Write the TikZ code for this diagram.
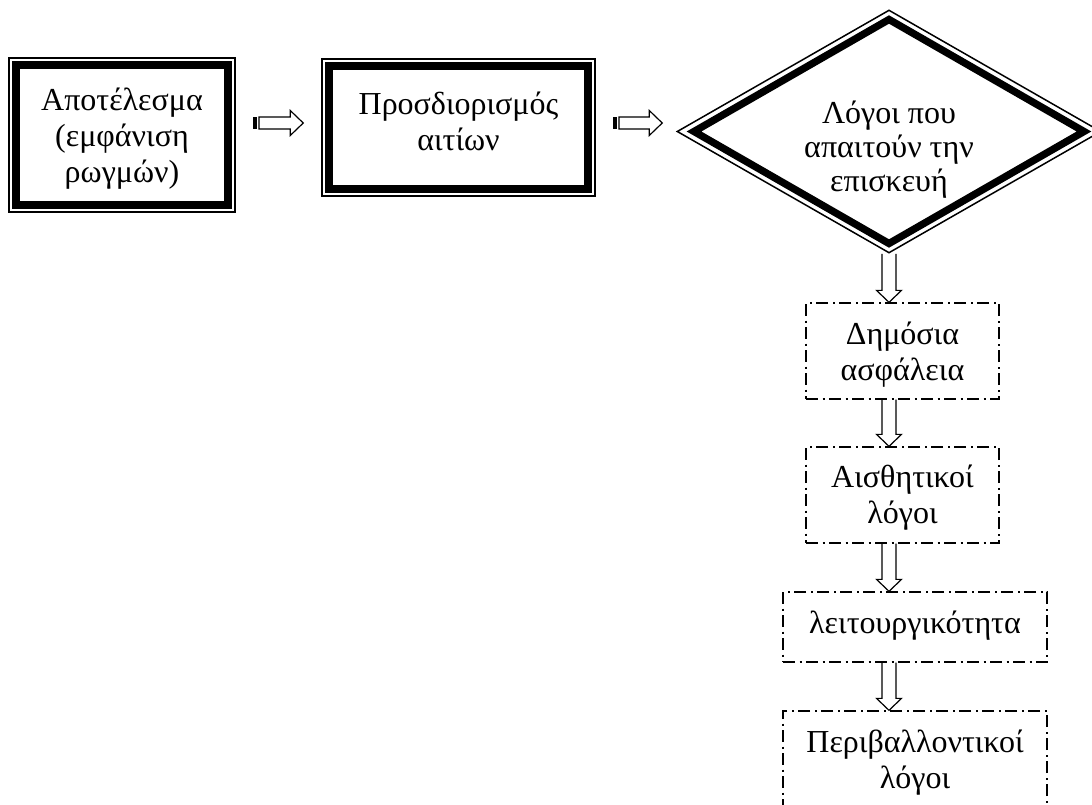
\documentclass[tikz,border=0pt]{standalone}
\usepackage{fontspec}
\setmainfont{Liberation Serif}
\usetikzlibrary{calc,shapes.geometric}
\tikzset{
  thinframe/.style={draw, line width=1.5pt, inner sep=0pt},
  thickframe/.style={line width=7.3pt, line join=miter},
  dashbox/.style={draw, line width=1.3pt, inner sep=0pt,
    dash pattern=on 12pt off 4.5pt on 2pt off 4.5pt},
  txt/.style={align=center, inner sep=0pt, font=\fontsize{32}{36}\selectfont},
  arrowline/.style={draw, line width=1.2pt, line join=miter}
}
\newcommand{\hbarrow}[2]{%
  \fill let \p1=(#1), \p2=(#2) in (\x1,\y1-6pt) rectangle (\x1+4.3pt,\y1+6pt);
  \draw[arrowline] let \p1=(#1), \p2=(#2) in
    (\x1+6.3pt,\y1+6pt) -- (\x2-13pt,\y1+6pt) -- (\x2-13pt,\y1+12.5pt) -- (\x2,\y1)
    -- (\x2-13pt,\y1-12.5pt) -- (\x2-13pt,\y1-6pt) -- (\x1+6.3pt,\y1-6pt) -- cycle;
}
\newcommand{\vbarrow}[2]{%
  \draw[arrowline] let \p1=(#1), \p2=(#2) in
    (\x1-7pt,\y1) -- (\x1-7pt,\y2+12pt) -- (\x1-12.5pt,\y2+12pt) -- (\x1,\y2)
    -- (\x1+12.5pt,\y2+12pt) -- (\x1+7pt,\y2+12pt) -- (\x1+7pt,\y1);
}
\begin{document}
\begin{tikzpicture}[x=1pt,y=-1pt]
\useasboundingbox (0,0) rectangle (1092,805);
\coordinate (ay) at (0,123);

% double framed boxes
\node[thinframe, minimum width=226pt, minimum height=154pt] (b1) at (122,135) {};
\draw[thickframe] ([shift={(7.8,7.8)}]b1.north west) rectangle ([shift={(-7.8,-7.8)}]b1.south east);
\node[txt] (b1t) at (122,139) {Αποτέλεσμα\\(εμφάνιση\\ρωγμών)};

\node[thinframe, minimum width=273pt, minimum height=137pt] (b2) at (458.5,127.5) {};
\draw[thickframe] ([shift={(7.8,7.8)}]b2.north west) rectangle ([shift={(-7.8,-7.8)}]b2.south east);
\node[txt] (b2t) at (458.5,121) {Προσδιορισμός\\αιτίων};

% diamond
\node[thinframe, diamond, line join=miter, minimum width=424pt, minimum height=243pt] (d) at (889,131.5) {};
\draw[thickframe] ([shift={(-195,0)}]d.center) -- ([shift={(0,-112)}]d.center)
  -- ([shift={(195,0)}]d.center) -- ([shift={(0,112)}]d.center) -- cycle;
\node[txt, font=\fontsize{32}{34}\selectfont] (dt) at (889,150) {Λόγοι που\\απαιτούν την\\επισκευή};

% dashed boxes
\node[dashbox, minimum width=193pt, minimum height=96pt] (s1) at (902.5,351) {};
\node[txt] (s1t) at (902.5,355) {Δημόσια\\ασφάλεια};
\node[dashbox, minimum width=193pt, minimum height=96pt] (s2) at (902.5,495) {};
\node[txt] (s2t) at (902.5,498) {Αισθητικοί\\λόγοι};
\node[dashbox, minimum width=264pt, minimum height=70pt] (s3) at (915,627) {};
\node[txt] (s3t) at (915,626) {λειτουργικότητα};
\node[dashbox, minimum width=264pt, minimum height=97pt] (s4) at (915,759.5) {};
\node[txt] (s4t) at (915,763) {Περιβαλλοντικοί\\λόγοι};

% horizontal block arrows
\hbarrow{$(b1.east |- ay)+(17,0)$}{$(b2.west |- ay)+(-18,0)$}
\hbarrow{$(b2.east |- ay)+(17,0)$}{$(d.west |- ay)+(-14,0)$}

% vertical block arrows
\vbarrow{d.south}{d.south |- s1.north}
\vbarrow{d.south |- s1.south}{d.south |- s2.north}
\vbarrow{d.south |- s2.south}{d.south |- s3.north}
\vbarrow{d.south |- s3.south}{d.south |- s4.north}
\end{tikzpicture}
\end{document}
